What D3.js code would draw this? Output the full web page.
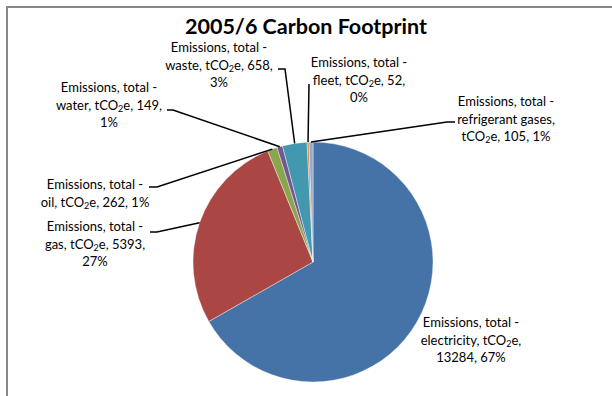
<!DOCTYPE html>
<html lang="en">
<head>
  <meta charset="UTF-8">
  <title>2005/6 Carbon Footprint</title>
  <script src="https://d3js.org/d3.v7.min.js"></script>
  <style>
    body { margin: 0; background: #fff; }
    text { font-family: Lato, "Open Sans", sans-serif; fill: #000; }
  </style>
</head>
<body>
  <script>
    // data
    const categories = ["electricity", "gas", "oil", "water", "waste", "fleet", "refrigerant gases"];
    const values = [13284, 5393, 262, 149, 658, 52, 105];
    const colors = ["#4572A7", "#AA4643", "#89A54E", "#71588F", "#4198AF", "#DB843D", "#93A9CF"];

    // label placement: centre x, first line y, words per line, leader start
    const labelLayout = [
      {x: 471, y: 327, split: [2, 2], lead: null},
      {x: 95,  y: 231, split: [3, 1], lead: [[150, 232], [157, 232]]},
      {x: 95,  y: 189, split: [4],    lead: [[149, 187], [157, 187]]},
      {x: 109, y: 92,  split: [3, 1], lead: [[167, 110], [173, 110]]},
      {x: 219, y: 52,  split: [3, 1], lead: [[278, 69], [285, 69]]},
      {x: 359, y: 67,  split: [3, 1], lead: [[309, 84], [309, 84]]},
      {x: 506, y: 106, split: [2, 3], lead: [[455, 122], [447, 122]]}
    ];

    const width = 612, height = 396;
    const cx = 313, cy = 262, radius = 120;
    const lineH = 17.6;

    const svg = d3.select("body").append("svg")
      .attr("width", width)
      .attr("height", height);

    svg.append("rect")
      .attr("x", 7).attr("y", 7)
      .attr("width", 700).attr("height", 500)
      .attr("fill", "none")
      .attr("stroke", "#878787")
      .attr("stroke-width", 2);

    svg.append("text")
      .attr("x", 306).attr("y", 33.5)
      .attr("text-anchor", "middle")
      .style("font-size", "21.5px")
      .style("font-weight", "bold")
      .text("2005/6 Carbon Footprint");

    const total = d3.sum(values);
    const data = categories.map((c, i) => ({name: c, value: values[i], color: colors[i], layout: labelLayout[i]}));

    const pie = d3.pie().sort(null).value(d => d.value);
    const arc = d3.arc().innerRadius(0).outerRadius(radius);
    const arcs = pie(data);

    const g = svg.append("g").attr("transform", `translate(${cx},${cy})`);

    g.selectAll("path")
      .data(arcs)
      .enter().append("path")
        .attr("d", arc)
        .attr("fill", d => d.data.color)
        .attr("stroke", "#fff")
        .attr("stroke-width", 0.4);

    // leader lines
    arcs.forEach(a => {
      const L = a.data.layout;
      if (!L.lead) return;
      const mid = (a.startAngle + a.endAngle) / 2;
      const ex = cx + radius * Math.sin(mid);
      const ey = cy - radius * Math.cos(mid);
      svg.append("path")
        .attr("d", d3.line()([L.lead[0], L.lead[1], [ex, ey]]))
        .attr("fill", "none")
        .attr("stroke", "#000")
        .attr("stroke-width", 1.5);
    });

    // labels
    arcs.forEach(a => {
      const L = a.data.layout;
      const pct = Math.round(a.data.value / total * 100);
      const words = `${a.data.name}, tCO2e, ${a.data.value}, ${pct}%`.split(" ");
      const lines = ["Emissions, total  -"];
      let k = 0;
      L.split.forEach(n => { lines.push(words.slice(k, k + n).join(" ")); k += n; });

      const t = svg.append("text")
        .attr("text-anchor", "middle")
        .style("font-size", "13px");

      lines.forEach((ln, i) => {
        const parts = ln.split("CO2");
        const first = t.append("tspan").attr("x", L.x).attr("y", L.y + i * lineH).text(parts[0]);
        if (parts.length > 1) {
          first.text(parts[0] + "CO");
          t.append("tspan").attr("dy", 2).style("font-size", "9px").text("2");
          t.append("tspan").attr("dy", -2).text(parts[1]);
        }
      });
    });
  </script>
</body>
</html>
